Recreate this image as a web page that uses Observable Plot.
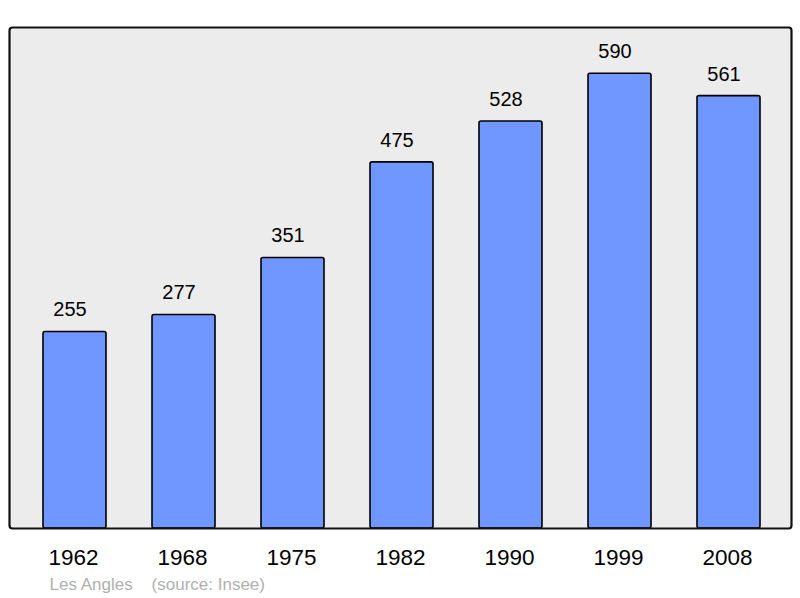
<!DOCTYPE html>
<html>
<head>
<meta charset="utf-8">
<script src="https://cdn.jsdelivr.net/npm/d3@7"></script>
<script src="https://cdn.jsdelivr.net/npm/@observablehq/plot@0.6"></script>
<style>
  html, body { margin: 0; padding: 0; background: #fff; }
</style>
</head>
<body>
<div id="chart"></div>
<script>
const years = ["1962", "1968", "1975", "1982", "1990", "1999", "2008"];
const population = [255, 277, 351, 475, 528, 590, 561];
const captionText = ["Les Angles\u00a0\u00a0\u00a0\u00a0(source: Insee)"];

const data = years.map((y, i) => ({year: y, pop: population[i]}));

const chart = Plot.plot({
  width: 800,
  height: 598,
  marginTop: 27,
  marginBottom: 70,
  marginLeft: 9,
  marginRight: 9,
  style: {fontFamily: "'Liberation Sans', Arial, sans-serif", background: "#fff"},
  x: {domain: years, paddingInner: 0.42, paddingOuter: 0.27, align: 0.53, label: null},
  y: {domain: [0, 650], axis: null},
  marks: [
    Plot.frame({fill: "#ececec", stroke: "none"}),
    Plot.barY(data, {x: "year", y: "pop", fill: "#7096ff", stroke: "#000", strokeWidth: 1.6, rx: 2}),
    Plot.text(data, {x: "year", y: "pop", text: d => String(d.pop), dx: -5, dy: -22, fontSize: 20, fill: "#000"}),
    Plot.frame({stroke: "#111", strokeWidth: 2.2, rx: 3}),
    Plot.axisX({tickSize: 0, tickPadding: 21, fontSize: 22.5, label: null, color: "#000", dx: -1.5}),
    Plot.text(captionText, {text: d => d, frameAnchor: "bottom-left", textAnchor: "start", dx: 40, dy: 61, fontSize: 17, fill: "#b0b0b0"})
  ]
});
document.getElementById("chart").appendChild(chart);
</script>
</body>
</html>
